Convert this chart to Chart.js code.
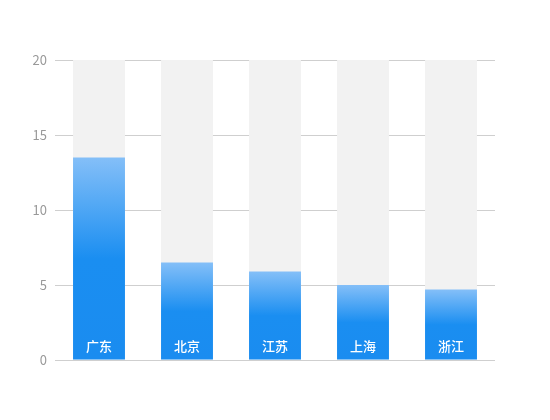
<!DOCTYPE html>
<html>
<head>
<meta charset="utf-8">
<script src="https://cdn.jsdelivr.net/npm/chart.js@4/dist/chart.umd.min.js"></script>
<style>
html,body{margin:0;padding:0;background:#fff;}
#wrap{width:550px;height:420px;}
</style>
</head>
<body>
<div id="wrap"><canvas id="c" width="550" height="420"></canvas></div>
<script>
const categories = ['广东', '北京', '江苏', '上海', '浙江'];
const values = [13.5, 6.5, 5.9, 5.0, 4.7];
const backgroundValues = [20, 20, 20, 20, 20];
const yTicks = [0, 5, 10, 15, 20];

const FONT = '"Noto Sans CJK SC", "Noto Sans", sans-serif';

function barGradient(ctx) {
  const chart = ctx.chart;
  const area = chart.chartArea;
  if (!area || ctx.type !== 'data') return '#1a8cf0';
  const y = chart.scales.y;
  const top = y.getPixelForValue(ctx.raw);
  const base = y.getPixelForValue(0);
  const g = chart.ctx.createLinearGradient(0, top, 0, base);
  g.addColorStop(0, '#84bff8');
  g.addColorStop(0.5, '#1a8ef1');
  g.addColorStop(1, '#1a8cf0');
  return g;
}

const insideLabels = {
  id: 'insideLabels',
  afterDatasetsDraw(chart) {
    const meta = chart.getDatasetMeta(0);
    const c = chart.ctx;
    const base = chart.scales.y.getPixelForValue(0);
    c.save();
    c.fillStyle = '#ffffff';
    c.font = '500 13px ' + FONT;
    c.textAlign = 'center';
    c.textBaseline = 'middle';
    meta.data.forEach((bar, i) => {
      c.fillText(categories[i], bar.x, base - 14);
    });
    c.restore();
  }
};

new Chart(document.getElementById('c'), {
  type: 'bar',
  data: {
    labels: categories,
    datasets: [
      {
        data: values,
        backgroundColor: barGradient,
        borderWidth: 0,
        barPercentage: 0.59,
        categoryPercentage: 1,
        grouped: false
      },
      {
        data: backgroundValues,
        backgroundColor: '#f2f2f2',
        borderWidth: 0,
        barPercentage: 0.59,
        categoryPercentage: 1,
        grouped: false
      }
    ]
  },
  options: {
    responsive: false,
    animation: false,
    layout: { padding: { top: 60, bottom: 60, right: 55, left: 0 } },
    plugins: { legend: { display: false }, tooltip: { enabled: false } },
    scales: {
      x: {
        display: false,
        grid: { display: false }
      },
      y: {
        min: 0,
        max: 20,
        afterFit(scale) { scale.width = 55; },
        afterBuildTicks(scale) { scale.ticks = yTicks.map(v => ({ value: v })); },
        border: { display: false },
        grid: { color: '#cfcfcf', lineWidth: 1, drawTicks: false },
        ticks: {
          color: '#999999',
          padding: 8,
          font: { family: FONT, size: 13 }
        }
      }
    }
  },
  plugins: [insideLabels]
});
</script>
</body>
</html>
